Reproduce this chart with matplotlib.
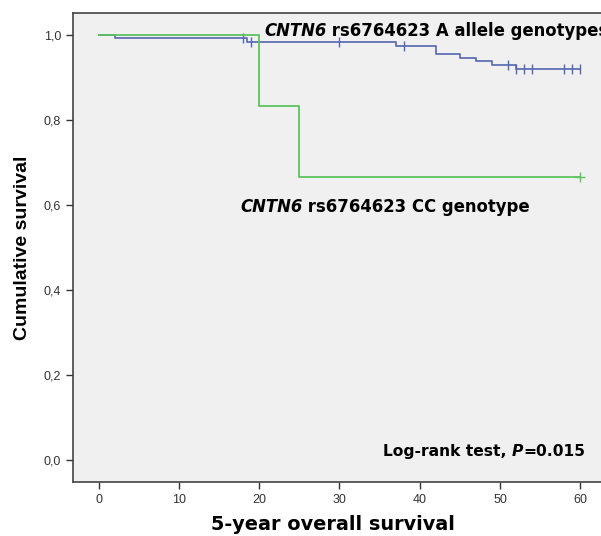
import numpy as np
import matplotlib
matplotlib.use("Agg")
import matplotlib.pyplot as plt

plt.rcParams['font.family'] = ['Liberation Sans', 'DejaVu Sans']

# Kaplan-Meier steps (time in months, survival)
a_times = [0, 2, 18.5, 37, 42, 45, 47, 49, 52]
a_surv = [1.0, 0.993, 0.984, 0.976, 0.957, 0.948, 0.940, 0.931, 0.920]
a_censor = [18, 19, 30, 38, 51, 52, 53, 54, 58, 59, 60]

cc_times = [0, 20, 25]
cc_surv = [1.0, 0.833, 0.667]
cc_censor = [60]

blue = '#5467b0'
green = '#5cc45c'
wide = 'DejaVu Sans'  # the reference text is drawn wider than Arial


def km_curve(times, surv, end):
    xs = list(times) + [end]
    ys = list(surv) + [surv[-1]]
    return xs, ys


def level_at(times, surv, t):
    s = surv[0]
    for ti, si in zip(times, surv):
        if ti <= t:
            s = si
    return s


fig = plt.figure(figsize=(6.01, 5.36), dpi=100)
ax = fig.add_axes([73 / 601, 54 / 536, 537 / 601, 469 / 536])
ax.set_facecolor('#f0f0f0')

xs, ys = km_curve(a_times, a_surv, 60)
ax.step(xs, ys, where='post', color=blue, lw=1.2, zorder=2)
xs, ys = km_curve(cc_times, cc_surv, 60)
ax.step(xs, ys, where='post', color=green, lw=1.3, zorder=3)

ax.plot(a_censor, [level_at(a_times, a_surv, t) for t in a_censor], '|',
        color=blue, ms=7, mew=1.0, ls='none', zorder=2)
ax.plot(cc_censor, [level_at(cc_times, cc_surv, t) for t in cc_censor], '+',
        color=green, ms=7, mew=1.0, ls='none', zorder=3)

ax.set_xlim(-3.2, 63.7)
ax.set_ylim(-0.052, 1.053)
ax.set_xticks(range(0, 61, 10))
ax.set_yticks([0, 0.2, 0.4, 0.6, 0.8, 1.0])
ax.set_yticklabels(['0,0', '0,2', '0,4', '0,6', '0,8', '1,0'])
ax.tick_params(axis='both', labelsize=9, labelcolor='#333333', color='#333333',
               length=5, width=1)
for s in ax.spines.values():
    s.set_color('#444444')
    s.set_linewidth(1.2)

ax.set_ylabel('Cumulative survival', fontsize=14, fontweight='bold', labelpad=9)
fig.text(333 / 601, 11 / 536, '5-year overall survival', fontsize=13.9,
         fontweight='bold', ha='center', va='center', family=wide)


def mixed_label(x, y, italic, rest, size=11.9):
    t1 = ax.text(x, y, italic, fontsize=size, fontweight='bold', style='italic',
                 va='center', ha='left', family=wide)
    ax.annotate(' ' + rest, xy=(1, 0.5), xycoords=t1, fontsize=size,
                fontweight='bold', va='center', ha='left', family=wide)


mixed_label(20.6, 1.01, 'CNTN6', 'rs6764623 A allele genotypes')
mixed_label(17.6, 0.595, 'CNTN6', 'rs6764623 CC genotype')

t = ax.text(35.4, 0.021, 'Log-rank test, ', fontsize=11.15, fontweight='bold',
            va='center', ha='left', family=wide)
t2 = ax.annotate('P', xy=(1, 0.5), xycoords=t, fontsize=11.15, fontweight='bold',
                 style='italic', va='center', ha='left', family=wide)
ax.annotate('=0.015', xy=(1, 0.5), xycoords=t2, fontsize=11.15, fontweight='bold',
            va='center', ha='left', family=wide)

fig.savefig('out.png', dpi=100)
